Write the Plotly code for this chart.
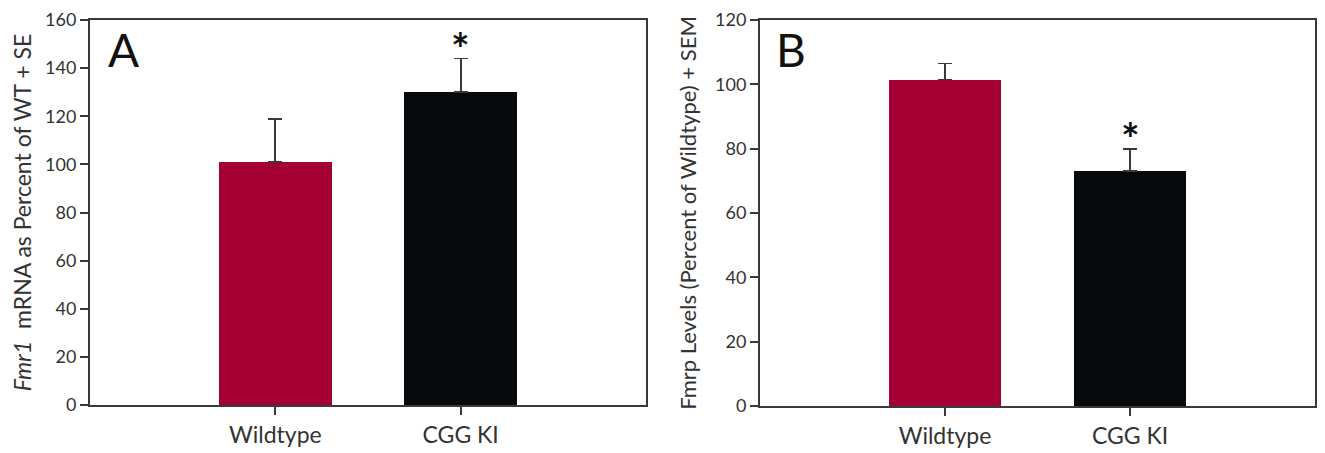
import plotly.graph_objects as go

categories = ["Wildtype", "CGG KI"]
mrna_values = [101, 130]
mrna_se = [18, 14]
fmrp_values = [101.5, 73]
fmrp_sem = [5, 7]
bar_colors = ["#a50034", "#060a0c"]

FONT = "Lato"
AXIS_COLOR = "#3a3a3a"
TEXT_COLOR = "#333333"

W, H = 1317, 445   # page body has an 8px margin
OFF = 8

def xd(a, b):
    return [(a - OFF) / W, (b - OFF) / W]

def yd(top, bottom):
    return [1 - (bottom - OFF) / H, 1 - (top - OFF) / H]

fig = go.Figure()

fig.add_trace(go.Bar(
    x=categories, y=mrna_values, width=0.61,
    marker=dict(color=bar_colors, line=dict(width=0)),
    error_y=dict(type="data", symmetric=False, array=mrna_se,
                 arrayminus=[0, 0], color=AXIS_COLOR, thickness=1.8, width=7),
    xaxis="x", yaxis="y", showlegend=False,
))
fig.add_trace(go.Bar(
    x=categories, y=fmrp_values, width=0.61,
    marker=dict(color=bar_colors, line=dict(width=0)),
    error_y=dict(type="data", symmetric=False, array=fmrp_sem,
                 arrayminus=[0, 0], color=AXIS_COLOR, thickness=1.8, width=7),
    xaxis="x2", yaxis="y2", showlegend=False,
))

axis_common = dict(
    showline=True, linecolor=AXIS_COLOR, linewidth=2, mirror=True,
    ticks="outside", ticklen=8, tickcolor=AXIS_COLOR, tickwidth=1.5,
    showgrid=False, zeroline=False, automargin=False,
    ticklabeloverflow="allow",
)
ytickfont = dict(family=FONT, size=18, color=TEXT_COLOR)
xtickfont = dict(family=FONT, size=23, color=TEXT_COLOR)

fig.update_layout(
    width=W, height=H,
    margin=dict(l=0, r=0, t=0, b=0, pad=0),
    paper_bgcolor="white", plot_bgcolor="white",
    font=dict(family=FONT, color=TEXT_COLOR),
    bargap=0,
    xaxis=dict(domain=xd(90, 646), range=[-1, 2], anchor="y",
               tickfont=xtickfont, **axis_common),
    yaxis=dict(domain=yd(20, 405), range=[0, 160], dtick=20,
               anchor="x", tickfont=ytickfont,
               title=dict(text="<i>Fmr1</i>  mRNA as Percent of WT + SE",
                          font=dict(family=FONT, size=23, color=TEXT_COLOR),
                          standoff=16),
               **axis_common),
    xaxis2=dict(domain=xd(760, 1315), range=[-1, 2], anchor="y2",
                tickfont=xtickfont, **axis_common),
    yaxis2=dict(domain=yd(20, 406), range=[0, 120], dtick=20,
                anchor="x2", tickfont=ytickfont,
                title=dict(text="Fmrp Levels (Percent of Wildtype) + SEM",
                           font=dict(family=FONT, size=22, color=TEXT_COLOR),
                           standoff=12),
                **axis_common),
)

annotations = [
    dict(x=-1, y=160, xref="x", yref="y", text="A", showarrow=False,
         xanchor="left", yanchor="top", xshift=16, yshift=0,
         font=dict(family=FONT, size=46, color="#111111")),
    dict(x=-1, y=120, xref="x2", yref="y2", text="B", showarrow=False,
         xanchor="left", yanchor="top", xshift=14, yshift=0,
         font=dict(family=FONT, size=46, color="#111111")),
    dict(x=categories[1], y=mrna_values[1] + mrna_se[1], xref="x", yref="y",
         text="<b>*</b>", showarrow=False, yanchor="bottom", yshift=-17,
         font=dict(family=FONT, size=44, color="#111111")),
    dict(x=categories[1], y=fmrp_values[1] + fmrp_sem[1], xref="x2", yref="y2",
         text="<b>*</b>", showarrow=False, yanchor="bottom", yshift=-17,
         font=dict(family=FONT, size=44, color="#111111")),
]
fig.update_layout(annotations=annotations)

fig.write_html("out.html")
